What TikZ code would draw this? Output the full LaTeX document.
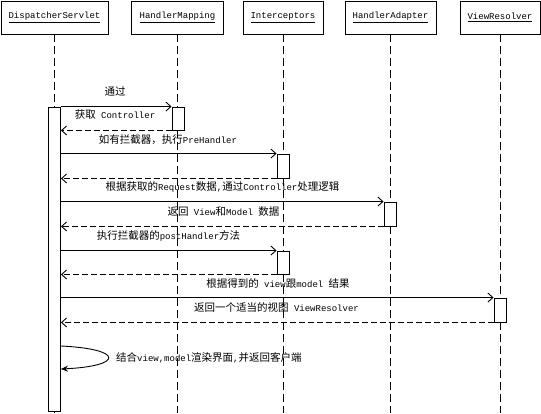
\documentclass[tikz,border=0pt]{standalone}
\usepackage{fontspec}
\setmainfont{Liberation Mono}
\newfontfamily\cjkfont{Noto Sans CJK SC}
\newcommand\CJ[1]{{\cjkfont\fontsize{10.5pt}{12pt}\selectfont #1}}
\usetikzlibrary{arrows.meta}
\tikzset{
  head/.style={draw, line width=0.9pt, minimum height=33pt, inner sep=0pt, font=\fontsize{9pt}{11pt}\selectfont},
  life/.style={line width=0.9pt, dash pattern=on 8pt off 4pt},
  actbar/.style={draw, fill=white, line width=0.9pt, minimum width=12pt, inner sep=0pt},
  msg/.style={line width=0.9pt, -{Straight Barb[length=5pt,width=9pt]}},
  ret/.style={line width=0.9pt, dash pattern=on 6pt off 3pt, -{Straight Barb[length=5pt,width=9pt]}},
  lbl/.style={inner sep=0pt, font=\fontsize{9pt}{11pt}\selectfont},
}
\begin{document}
\begin{tikzpicture}[x=1pt,y=-1pt]
\useasboundingbox (0,0) rectangle (541,413);
% headers
\node[head, minimum width=107pt] (ds) at (54.5,17.5) {\underline{DispatcherServlet}};
\node[head, minimum width=92pt] (hm) at (177.5,17.5) {\underline{HandlerMapping}};
\node[head, minimum width=80pt] (ic) at (283,17.5) {\underline{Interceptors}};
\node[head, minimum width=91pt] (ha) at (390.5,17.5) {\underline{HandlerAdapter}};
\node[head, minimum width=80pt] (vr) at (500,17.5) {\underline{ViewResolver}};
\coordinate (bot) at (0,413);
% lifelines
\foreach \n in {ds,hm,ic,ha,vr} \draw[life] (\n.south) -- (\n.south |- bot);
% activation bars
\node[actbar, minimum height=304pt] (dsbar) at (54.5,259) {};
\node[actbar, minimum height=23pt] (hmbar) at (178,118.5) {};
\node[actbar, minimum height=24pt] (icbar1) at (283,166) {};
\node[actbar, minimum height=24pt] (habar) at (390,214) {};
\node[actbar, minimum height=23pt] (icbar2) at (283,262.5) {};
\node[actbar, minimum height=24pt] (vrbar) at (500,310) {};
% messages
\draw[msg] (dsbar.north east) -- (hmbar.north west);
\draw[ret] (hmbar.south west) -- (dsbar.east |- hmbar.south);
\draw[msg] (dsbar.east |- icbar1.north) -- (icbar1.north west);
\draw[ret] (icbar1.south west) -- (dsbar.east |- icbar1.south);
\draw[msg] (dsbar.east |- habar.north) -- (habar.north west);
\draw[ret] (habar.south west) -- (dsbar.east |- habar.south);
\draw[msg] (dsbar.east |- icbar2.north) -- (icbar2.north west);
\draw[ret] (icbar2.south west) -- (dsbar.east |- icbar2.south);
\draw[msg] (dsbar.east |- vrbar.north) -- (vrbar.north west);
\draw[ret] (vrbar.south west) -- (dsbar.east |- vrbar.south);
% self call
\coordinate (sc1) at (dsbar.east |- 0,346);
\coordinate (sc2) at (dsbar.east |- 0,369);
\draw[line width=0.9pt, -{Stealth[length=7pt,width=6pt]}] (sc1) .. controls (124,349) and (124,366) .. (sc2);
% labels
\node[lbl] (l1) at (115,91) {\CJ{通过}};
\node[lbl] (l2) at (115,115) {\CJ{获取} Controller};
\node[lbl] (l3) at (168,140) {\CJ{如有拦截器，执行}PreHandler};
\node[lbl] (l4) at (222.5,187) {\CJ{根据获取的}Request\CJ{数据},\CJ{通过}Controller\CJ{处理逻辑}};
\node[lbl] (l5) at (223.5,212) {\CJ{返回} View\CJ{和}Model \CJ{数据}};
\node[lbl] (l6) at (168.5,236) {\CJ{执行拦截器的}postHandler\CJ{方法}};
\node[lbl] (l7) at (278,283) {\CJ{根据得到的} view\CJ{跟}model \CJ{结果}};
\node[lbl] (l8) at (276.5,307) {\CJ{返回一个适当的视图} ViewResolver};
\node[lbl, anchor=west] (l9) at (116,358) {\CJ{结合}view,model\CJ{渲染界面},\CJ{并返回客户端}};
\end{tikzpicture}
\end{document}
